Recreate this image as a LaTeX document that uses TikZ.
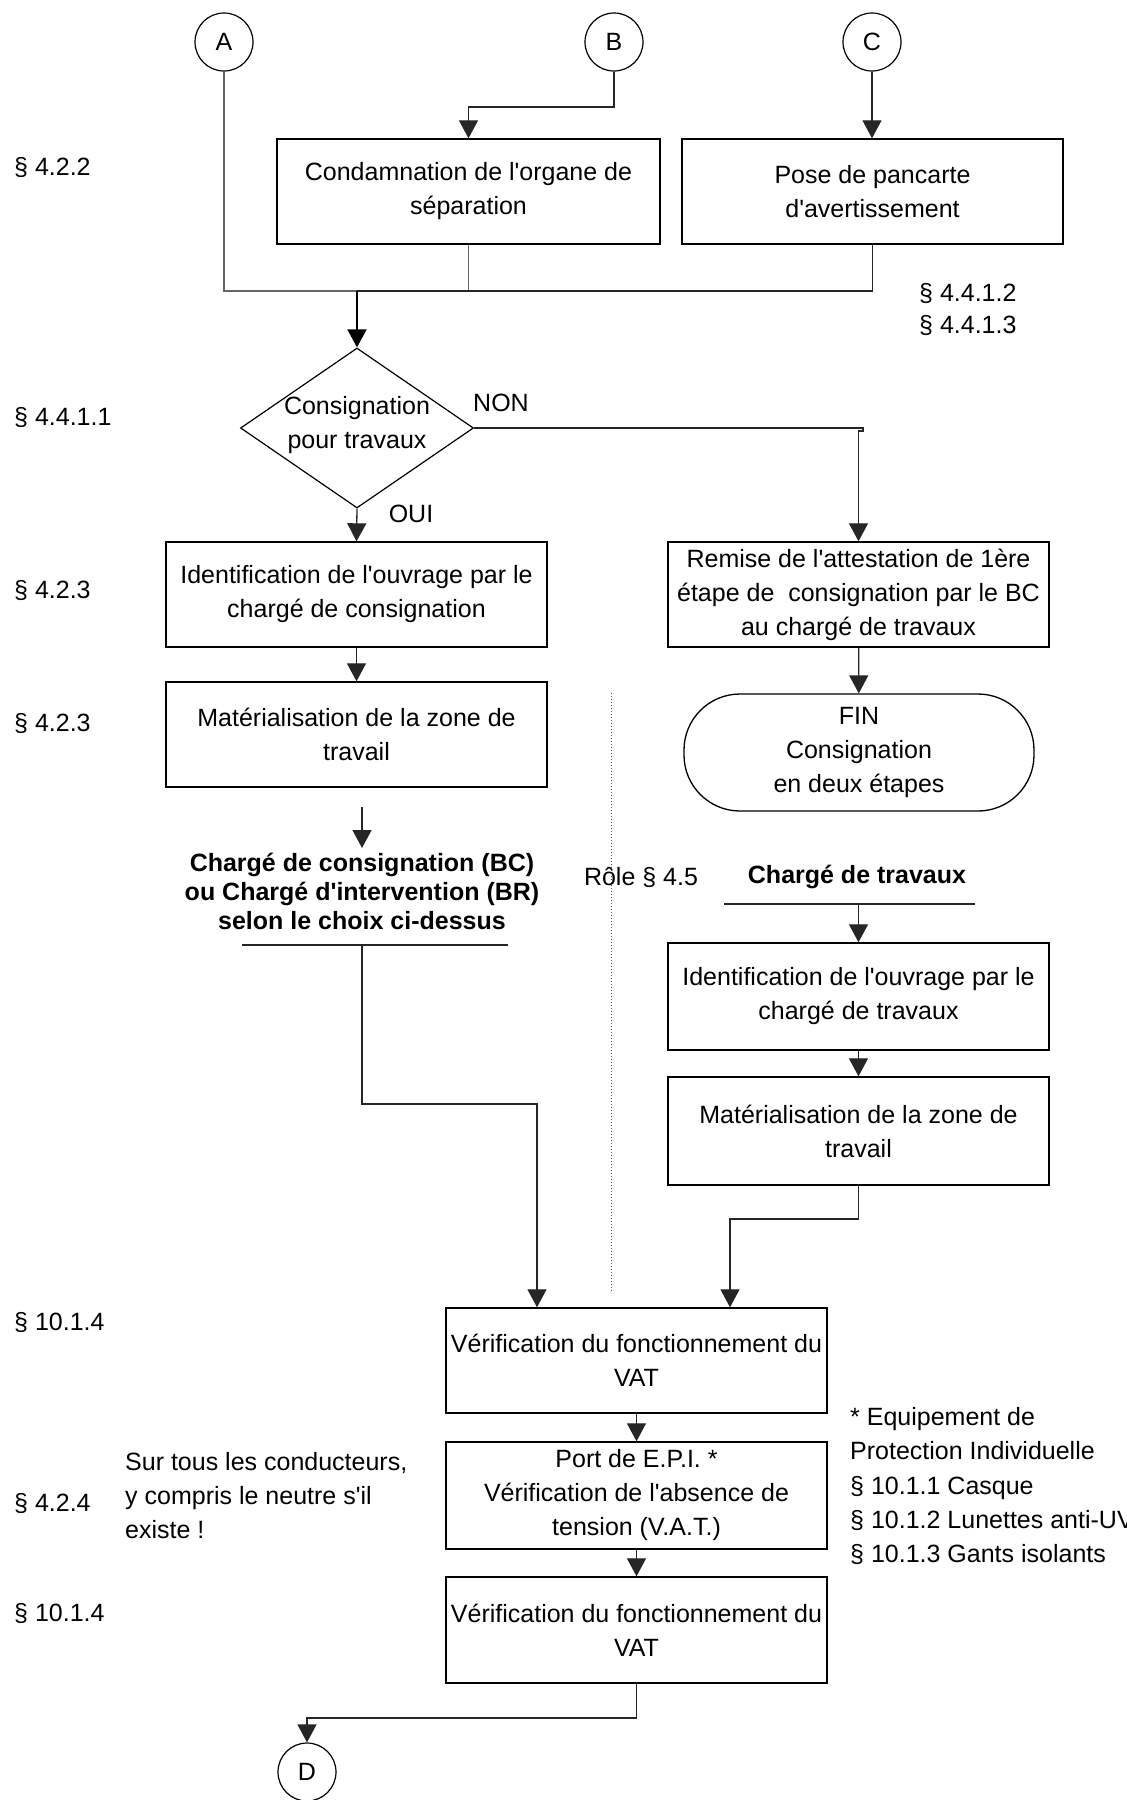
\documentclass[tikz,border=0pt]{standalone}
\usepackage{fontspec}
\setmainfont{Liberation Sans}[Ligatures=TeXOff]
\usetikzlibrary{arrows.meta,shapes.geometric,calc}
\begin{document}
\begin{tikzpicture}[x=1pt,y=-1pt,
  every node/.style={font=\fontsize{25}{34}\selectfont, inner sep=0pt, align=center},
  box/.style={draw, line width=1.4pt, minimum width=381pt, minimum height=105pt},
  circ/.style={draw, circle, line width=1.2pt, minimum size=58pt},
  finbox/.style={draw, line width=1.3pt, minimum width=350pt, minimum height=117pt, rounded corners=56pt},
  boldtxt/.style={font=\fontsize{25}{29}\selectfont\bfseries},
  lbl/.style={anchor=west, align=left},
  conn/.style={line width=1.3pt, black!85},
  arr/.style={conn, -{Triangle[length=18pt,width=19pt]}},
]
\useasboundingbox (0,0) rectangle (1127,1800);
\clip (0,0) rectangle (1127,1800);

% connectors circles
\node[circ] (A) at (224,42) {A};
\node[circ] (B) at (614,42) {B};
\node[circ] (C) at (872,42) {C};
\node[circ] (D) at (307,1772) {D};

% boxes
\node[box, minimum width=383pt] (cond) at (468.5,191.5) {Condamnation de l'organe de\\séparation};
\node[box] (pose) at (872.5,191.5) {Pose de pancarte\\d'avertissement};
\node[draw, diamond, line width=1.2pt, minimum width=233pt, minimum height=160pt] (dec) at (357,428) {};
\node (dect) at (357,425) {Consignation\\pour travaux};
\node (non) at (501,403) {NON};
\node (oui) at (411,514) {OUI};
\node[box] (idc) at (356.5,594.5) {Identification de l'ouvrage par le\\chargé de consignation};
\node[box] (remise) at (858.5,594.5) {Remise de l'attestation de 1ère\\étape de\ \ consignation par le BC\\au chargé de travaux};
\node[box] (matl) at (356.5,734.5) {Matérialisation de la zone de\\travail};
\node[finbox] (fin) at (859,752.5) {FIN\\Consignation\\en deux étapes};
\node[boldtxt] (bc) at (362,891) {Chargé de consignation (BC)\\ou Chargé d'intervention (BR)\\selon le choix ci-dessus};
\node (role) at (641,877) {Rôle § 4.5};
\node[boldtxt] (ct) at (857,877) {Chargé de travaux};
\node[box, minimum height=107pt] (idt) at (858.5,996.5) {Identification de l'ouvrage par le\\chargé de travaux};
\node[box, minimum height=108pt] (matr) at (858.5,1131) {Matérialisation de la zone de\\travail};
\node[box] (vat1) at (636.5,1360.5) {Vérification du fonctionnement du\\VAT};
\node[box, minimum height=107pt] (epi) at (636.5,1495.5) {Port de E.P.I. *\\Vérification de l'absence de\\tension (V.A.T.)};
\node[box, minimum height=106pt] (vat2) at (636.5,1630) {Vérification du fonctionnement du\\VAT};

% side labels
\node[lbl] (s1) at (14,167) {§ 4.2.2};
\node[lbl] (s2) at (919,293) {§ 4.4.1.2};
\node[lbl] (s3) at (919,325) {§ 4.4.1.3};
\node[lbl] (s4) at (14,417) {§ 4.4.1.1};
\node[lbl] (s5) at (14,590) {§ 4.2.3};
\node[lbl] (s6) at (14,723) {§ 4.2.3};
\node[lbl] (s7) at (14,1322) {§ 10.1.4};
\node[lbl] (s8) at (14,1503) {§ 4.2.4};
\node[lbl] (s9) at (14,1613) {§ 10.1.4};
\node[lbl] (note1) at (125,1496) {Sur tous les conducteurs,\\y compris le neutre s'il\\existe !};
\node[lbl, font=\fontsize{25}{34.25}\selectfont] (note2) at (850,1486) {* Equipement de\\Protection Individuelle\\§ 10.1.1 Casque\\§ 10.1.2 Lunettes anti-UV\\§ 10.1.3 Gants isolants};

% coordinates
\coordinate (j1) at (357,291);
\coordinate (bk) at (468.5,107);
\coordinate (nj1) at (863,428);
\coordinate (nj2) at (863,431);
\coordinate (nj3) at (858.5,431);
\coordinate (a1) at (362,807);
\coordinate (a2) at (362,848);
\coordinate (u1) at (242,945);
\coordinate (u2) at (508,945);
\coordinate (u3) at (362,945);
\coordinate (k1) at (537,1104);
\coordinate (t1) at (724,904);
\coordinate (t2) at (975,904);
\coordinate (t3) at (858.5,904);
\coordinate (k2) at (730,1219);
\coordinate (k3) at (307,1718);
\coordinate (d1) at (611,693);
\coordinate (d2) at (611,1293);

% lines
\draw[conn, black!60] (A.south) |- (j1);
\draw[conn, black!60] (cond.south) |- (j1);
\draw[conn] (pose.south) |- (j1);
\draw[arr, line width=1.8pt, black] (j1) -- (dec.north);
\draw[arr] (B.south) |- (bk) -- (cond.north);
\draw[arr] (C.south) -- (C.south |- pose.north);
\draw[arr] (dec.south) -- (idc.north);
\draw[arr] (dec.east) -- (nj1) -- (nj2) -- (nj3) -- (remise.north);
\draw[arr] (idc) -- (matl);
\draw[arr] (remise) -- (fin);
\draw[arr] (a1) -- (a2);
\draw[conn] (u1) -- (u2);
\draw[arr] (u3) |- (k1) -- (k1 |- vat1.north);
\draw[conn] (t1) -- (t2);
\draw[arr] (t3) -- (idt.north);
\draw[arr] (idt) -- (matr);
\draw[arr] (matr.south) |- (k2) -- (k2 |- vat1.north);
\draw[arr] (vat1) -- (epi);
\draw[arr] (epi) -- (vat2);
\draw[arr] (vat2.south) |- (k3) -- (D.north);
\draw[dotted, line width=1pt, black!70] (d1) -- (d2);
\end{tikzpicture}
\end{document}
